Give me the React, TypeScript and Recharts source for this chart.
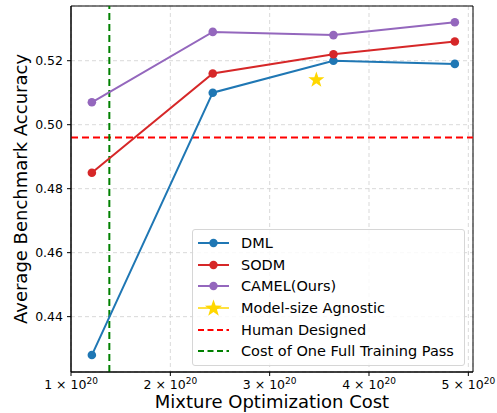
import React from 'react'
import {
  ComposedChart,
  Line,
  Scatter,
  XAxis,
  YAxis,
  CartesianGrid,
  ReferenceLine,
  ReferenceArea,
  Legend,
} from 'recharts'

const costs = [1.21e20, 2.427e20, 3.642e20, 4.864e20]
const dml = [0.428, 0.51, 0.52, 0.519]
const sodm = [0.485, 0.516, 0.522, 0.526]
const camel = [0.507, 0.529, 0.528, 0.532]
const agnosticCost = [3.47e20]
const agnosticAcc = [0.514]
const humanDesigned = 0.496
const fullPassCost = 1.386e20
const xTicks = [1e20, 2e20, 3e20, 4e20, 5e20]
const yTicks = [0.44, 0.46, 0.48, 0.5, 0.52]
const xDomain = [1e20, 5.047e20]
const yDomain = [0.4227, 0.5371]

const FONT = '"DejaVu Sans", sans-serif'
const BLUE = '#1f77b4'
const RED = '#d62728'
const PURPLE = '#9467bd'
const GOLD = '#ffd700'

const rows = costs.map((cost, i) => ({ cost, dml: dml[i], sodm: sodm[i], camel: camel[i] }))
const starRows = agnosticCost.map((cost, i) => ({ cost, acc: agnosticAcc[i] }))

const starPoints = (cx: number, cy: number, R: number) => {
  const r = R * 0.4
  const pts: string[] = []
  for (let k = 0; k < 10; k++) {
    const a = -Math.PI / 2 + (k * Math.PI) / 5
    const rad = k % 2 === 0 ? R : r
    pts.push(`${cx + rad * Math.cos(a)},${cy + rad * Math.sin(a)}`)
  }
  return pts.join(' ')
}

const StarShape = (props: any) => {
  const { cx, cy } = props
  if (cx == null || cy == null) return null
  return <polygon points={starPoints(cx, cy, 8.5)} fill={GOLD} />
}

// tick labels like "2 × 10^20" with a raised exponent
const XTick = (props: any) => {
  const { x, y, payload } = props
  const n = Math.round(payload.value / 1e20)
  return (
    <text x={x} y={y + 11} textAnchor="middle" fontFamily={FONT} fontSize={12.5} fill="#000">
      <tspan>{`${n} × 10`}</tspan>
      <tspan dy={-5} fontSize={9}>20</tspan>
    </text>
  )
}

const legendItems = [
  { label: 'DML', kind: 'line', color: BLUE },
  { label: 'SODM', kind: 'line', color: RED },
  { label: 'CAMEL(Ours)', kind: 'line', color: PURPLE },
  { label: 'Model-size Agnostic', kind: 'star', color: GOLD },
  { label: 'Human Designed', kind: 'dash', color: '#ff0000' },
  { label: 'Cost of One Full Training Pass', kind: 'dash', color: '#008000' },
]

const LegendBox = () => (
  <div
    style={{
      width: 271,
      height: 133,
      border: '1px solid #d6d6d6',
      borderRadius: 3,
      background: 'rgba(255,255,255,0.85)',
      fontFamily: FONT,
      fontSize: 14.5,
      color: '#000',
      boxSizing: 'content-box',
      paddingTop: 2,
    }}
  >
    {legendItems.map((it) => (
      <div key={it.label} style={{ display: 'flex', alignItems: 'center', height: 21.7 }}>
        <svg width={48} height={20} style={{ flex: 'none' }}>
          {it.kind === 'line' && (
            <>
              <line x1={5} x2={36} y1={10} y2={10} stroke={it.color} strokeWidth={2} />
              <circle cx={20.5} cy={10} r={4.2} fill={it.color} />
            </>
          )}
          {it.kind === 'star' && (
            <>
              <line x1={5} x2={36} y1={10} y2={10} stroke={it.color} strokeWidth={1.5} />
              <polygon points={starPoints(20.5, 10.5, 9)} fill={it.color} />
            </>
          )}
          {it.kind === 'dash' && (
            <line x1={5} x2={36} y1={10} y2={10} stroke={it.color} strokeWidth={2} strokeDasharray="6 3.5" />
          )}
        </svg>
        <span style={{ whiteSpace: 'nowrap' }}>{it.label}</span>
      </div>
    ))}
  </div>
)

export default function App() {
  return (
    <div style={{ position: 'absolute', left: 0, top: 0, width: 497, height: 413, background: '#fff' }}>
      <ComposedChart width={497} height={413} data={rows} margin={{ top: 6, right: 24, bottom: 0, left: 0 }}>
        <CartesianGrid stroke="#cfcfcf" strokeDasharray="4 3" strokeWidth={0.8} />
        <XAxis
          dataKey="cost"
          type="number"
          domain={xDomain}
          ticks={xTicks}
          interval={0}
          allowDataOverflow
          height={41}
          tickSize={4}
          tick={<XTick />}
          stroke="#000"
          label={{
            value: 'Mixture Optimization Cost',
            position: 'insideBottom',
            offset: 5,
            fontFamily: FONT,
            fontSize: 18,
            fill: '#000',
          }}
        />
        <YAxis
          type="number"
          domain={yDomain}
          ticks={yTicks}
          interval={0}
          allowDataOverflow
          width={71}
          tickSize={4}
          tickMargin={4}
          tickFormatter={(v: number) => v.toFixed(2)}
          tick={{ fontFamily: FONT, fontSize: 12.5, fill: '#000' }}
          stroke="#000"
          label={{
            value: 'Average Benchmark Accuracy',
            angle: -90,
            position: 'insideLeft',
            offset: 21,
            style: { textAnchor: 'middle' },
            fontFamily: FONT,
            fontSize: 18,
            fill: '#000',
          }}
        />
        {/* frame on all four sides */}
        <ReferenceArea
          x1={xDomain[0]}
          x2={xDomain[1]}
          y1={yDomain[0]}
          y2={yDomain[1]}
          fill="none"
          stroke="#000"
          strokeWidth={1}
          ifOverflow="extendDomain"
        />
        <ReferenceLine y={humanDesigned} stroke="#ff0000" strokeWidth={2} strokeDasharray="7 4" />
        <ReferenceLine x={fullPassCost} stroke="#008000" strokeWidth={2} strokeDasharray="7 4" />
        <Line
          dataKey="dml"
          stroke={BLUE}
          strokeWidth={2}
          dot={{ r: 4.3, fill: BLUE, stroke: BLUE, strokeWidth: 0 }}
          activeDot={false}
          isAnimationActive={false}
        />
        <Line
          dataKey="sodm"
          stroke={RED}
          strokeWidth={2}
          dot={{ r: 4.3, fill: RED, stroke: RED, strokeWidth: 0 }}
          activeDot={false}
          isAnimationActive={false}
        />
        <Line
          dataKey="camel"
          stroke={PURPLE}
          strokeWidth={2}
          dot={{ r: 4.3, fill: PURPLE, stroke: PURPLE, strokeWidth: 0 }}
          activeDot={false}
          isAnimationActive={false}
        />
        <Scatter data={starRows} dataKey="acc" shape={<StarShape />} isAnimationActive={false} />
        <Legend
          layout="horizontal"
          verticalAlign="middle"
          content={() => <LegendBox />}
          wrapperStyle={{ left: 192, top: 229, width: 'auto' }}
        />
      </ComposedChart>
    </div>
  )
}
